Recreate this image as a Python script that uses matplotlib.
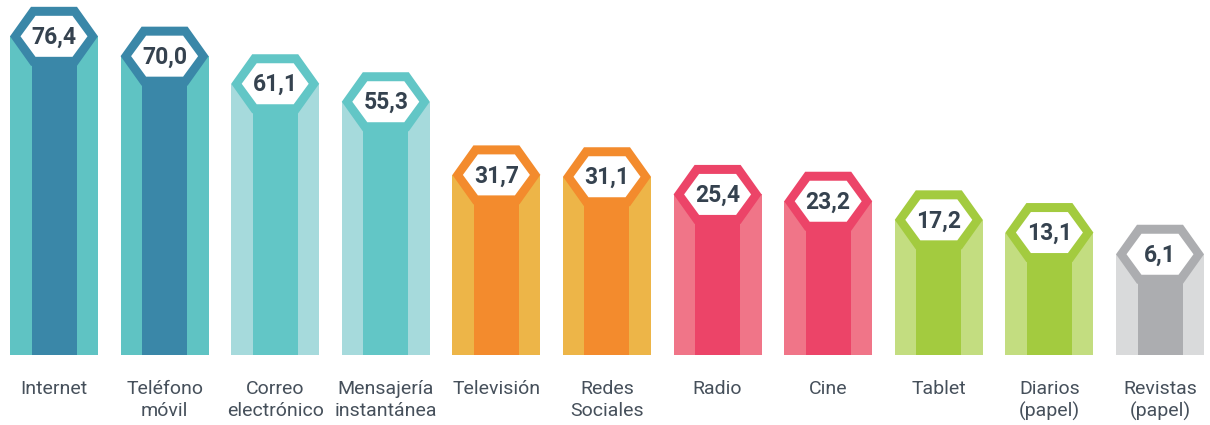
import matplotlib
matplotlib.use("Agg")
import matplotlib.pyplot as plt
from matplotlib.patches import Polygon, Rectangle

categories = ["Internet", "Teléfono\nmóvil", "Correo\nelectrónico", "Mensajería\ninstantánea",
              "Televisión", "Redes\nSociales", "Radio", "Cine", "Tablet",
              "Diarios\n(papel)", "Revistas\n(papel)"]
values = [76.4, 70.0, 61.1, 55.3, 31.7, 31.1, 25.4, 23.2, 17.2, 13.1, 6.1]
value_labels = ["76,4", "70,0", "61,1", "55,3", "31,7", "31,1", "25,4", "23,2", "17,2", "13,1", "6,1"]
center_colors = ["#3A87A8", "#3A87A8", "#62C6C6", "#62C6C6", "#F38B2D", "#F38B2D",
                 "#EC4468", "#EC4468", "#A3CB3F", "#A3CB3F", "#ACADB0"]
side_colors = ["#5FC3C3", "#5FC3C3", "#A6DADC", "#A6DADC", "#EDB548", "#EDB548",
               "#F07588", "#F07588", "#C3DD80", "#C3DD80", "#D9DADB"]

W, H = 1210, 425
fig = plt.figure(figsize=(W / 100, H / 100), dpi=100)
ax = fig.add_axes([0, 0, 1, 1])

px_per_unit_y = 3.10
px_per_unit_x = 110.6
base = -26.4
ymin = base - 70 / px_per_unit_y
ax.set_ylim(ymin, ymin + H / px_per_unit_y)
xmin = -54 / px_per_unit_x
ax.set_xlim(xmin, xmin + W / px_per_unit_x)
ax.axis("off")

def px_x(p):
    return p / px_per_unit_x

def px_y(p):
    return p / px_per_unit_y

outer_hw = px_x(44)
flat_hw = px_x(23)
half_h = px_y(29.5)
in_hw = px_x(33.5)
in_flat = px_x(18.5)
in_half_h = px_y(20.5)
strip_hw = px_x(22.5)

for i, (v, cc, sc) in enumerate(zip(values, center_colors, side_colors)):
    ax.add_patch(Rectangle((i - outer_hw, base), 2 * outer_hw, v - base,
                           facecolor=sc, edgecolor="none", zorder=1))
    ax.add_patch(Rectangle((i - strip_hw, base), 2 * strip_hw, v - base,
                           facecolor=cc, edgecolor="none", zorder=2))
    outer = [(i - flat_hw, v + half_h), (i + flat_hw, v + half_h), (i + outer_hw, v),
             (i + flat_hw, v - half_h), (i - flat_hw, v - half_h), (i - outer_hw, v)]
    inner = [(i - in_flat, v + in_half_h), (i + in_flat, v + in_half_h), (i + in_hw, v),
             (i + in_flat, v - in_half_h), (i - in_flat, v - in_half_h), (i - in_hw, v)]
    ax.add_patch(Polygon(outer, closed=True, facecolor=cc, edgecolor="none", zorder=3))
    ax.add_patch(Polygon(inner, closed=True, facecolor="white", edgecolor="none", zorder=4))
    ax.text(i, v - px_y(1), value_labels[i], ha="center", va="center",
            fontsize=16.5, fontweight="bold", family="Roboto", color="#35424F", zorder=5)

label_y = ymin + px_y(H - 380)
for i, lab in enumerate(categories):
    ax.text(i, label_y, lab, ha="center", va="top", fontsize=14, family="Roboto",
            color="#46505B", linespacing=1.25)

fig.savefig("out.png", dpi=100, facecolor="white")
